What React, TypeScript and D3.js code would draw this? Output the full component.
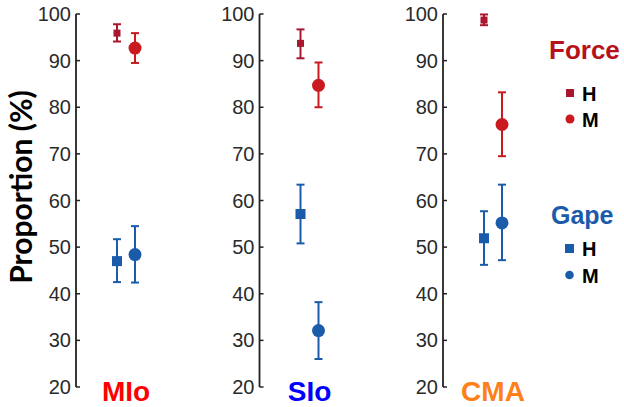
import * as d3 from "d3";

const categories = ["MIo", "SIo", "CMA"];
const categoryColors = ["#FF0000", "#0000FF", "#FF8019"];

const yTicks = [20, 30, 40, 50, 60, 70, 80, 90, 100];

// Force, H (square) and M (circle)
const forceH = [95.9, 93.7, 98.7];
const forceHLow = [94.1, 90.5, 97.6];
const forceHHigh = [97.8, 96.7, 99.9];
const forceM = [92.7, 84.7, 76.3];
const forceMLow = [89.5, 80.0, 69.5];
const forceMHigh = [95.9, 89.6, 83.2];

// Gape, H (square) and M (circle)
const gapeH = [47.0, 57.1, 51.9];
const gapeHLow = [42.5, 50.8, 46.2];
const gapeHHigh = [51.7, 63.4, 57.7];
const gapeM = [48.4, 32.1, 55.2];
const gapeMLow = [42.4, 26.0, 47.2];
const gapeMHigh = [54.5, 38.2, 63.4];

const W = 624;
const H = 407;

const FORCE_TITLE = "#B5121B";
const FORCE_H = "#A8172E";
const FORCE_M = "#C81A1F";
const GAPE = "#1A5BAA";

const font = "Arial, 'Liberation Sans', sans-serif";

export default function App() {
  const y = d3.scaleLinear().domain([20, 100]).range([387, 14]);
  // left edge (axis line) of each panel
  const panelX = d3.scalePoint<string>().domain(categories).range([76, 443]);
  // marker offset inside a panel
  const seriesX = d3.scalePoint<string>().domain(["H", "M"]).range([41, 59]);

  const series = [
    { key: "H", vals: forceH, lo: forceHLow, hi: forceHHigh, color: FORCE_H, shape: "square", size: 7 },
    { key: "M", vals: forceM, lo: forceMLow, hi: forceMHigh, color: FORCE_M, shape: "circle", size: 13 },
    { key: "H", vals: gapeH, lo: gapeHLow, hi: gapeHHigh, color: GAPE, shape: "square", size: 10 },
    { key: "M", vals: gapeM, lo: gapeMLow, hi: gapeMHigh, color: GAPE, shape: "circle", size: 13 },
  ];

  return (
    <svg
      width={W}
      height={H}
      style={{ position: "absolute", left: 0, top: 0, background: "#fff" }}
      fontFamily={font}
    >
      {categories.map((cat, ci) => {
        const ax = panelX(cat)!;
        return (
          <g key={cat}>
            <line x1={ax} x2={ax} y1={y(20)} y2={y(100)} stroke="#222" strokeWidth={1.8} />
            {yTicks.map((t) => (
              <g key={t}>
                <line x1={ax} x2={ax + 4} y1={y(t)} y2={y(t)} stroke="#222" strokeWidth={1.5} />
                <text
                  x={ax - 5}
                  y={y(t)}
                  textAnchor="end"
                  dominantBaseline="central"
                  fontSize={20}
                  fill="#2a2a2a"
                >
                  {t}
                </text>
              </g>
            ))}
            {series.map((s, si) => {
              const cx = ax + seriesX(s.key)!;
              const cy = y(s.vals[ci]);
              return (
                <g key={si}>
                  <line x1={cx} x2={cx} y1={y(s.lo[ci])} y2={y(s.hi[ci])} stroke={s.color} strokeWidth={2} />
                  <line x1={cx - 4} x2={cx + 4} y1={y(s.lo[ci])} y2={y(s.lo[ci])} stroke={s.color} strokeWidth={2} />
                  <line x1={cx - 4} x2={cx + 4} y1={y(s.hi[ci])} y2={y(s.hi[ci])} stroke={s.color} strokeWidth={2} />
                  {s.shape === "square" ? (
                    <rect x={cx - s.size / 2} y={cy - s.size / 2} width={s.size} height={s.size} fill={s.color} />
                  ) : (
                    <circle cx={cx} cy={cy} r={s.size / 2} fill={s.color} />
                  )}
                </g>
              );
            })}
            <text
              x={ax + 50}
              y={401}
              textAnchor="middle"
              fontSize={28}
              fontWeight="bold"
              fill={categoryColors[ci]}
            >
              {cat}
            </text>
          </g>
        );
      })}

      <text
        transform="translate(32,187) rotate(-90)"
        textAnchor="middle"
        fontSize={30}
        fontWeight="bold"
        fontFamily="Lato, 'Open Sans', sans-serif"
        fill="#000"
      >
        Proportion (%)
      </text>

      {/* legend */}
      <text x={549} y={59} fontSize={26} fontWeight="bold" fill={FORCE_TITLE}>
        Force
      </text>
      <rect x={566} y={89} width={8} height={8} fill={FORCE_H} />
      <text x={582} y={101} fontSize={20} fontWeight="bold" fill="#000">
        H
      </text>
      <circle cx={570} cy={119} r={4.5} fill={FORCE_M} />
      <text x={582} y={127} fontSize={20} fontWeight="bold" fill="#000">
        M
      </text>

      <text x={551} y={224} fontSize={25} fontWeight="bold" fill={GAPE}>
        Gape
      </text>
      <rect x={565} y={244} width={9} height={9} fill={GAPE} />
      <text x={582} y={256} fontSize={20} fontWeight="bold" fill="#000">
        H
      </text>
      <circle cx={569.5} cy={275} r={4.3} fill={GAPE} />
      <text x={582} y={283} fontSize={20} fontWeight="bold" fill="#000">
        M
      </text>
    </svg>
  );
}
